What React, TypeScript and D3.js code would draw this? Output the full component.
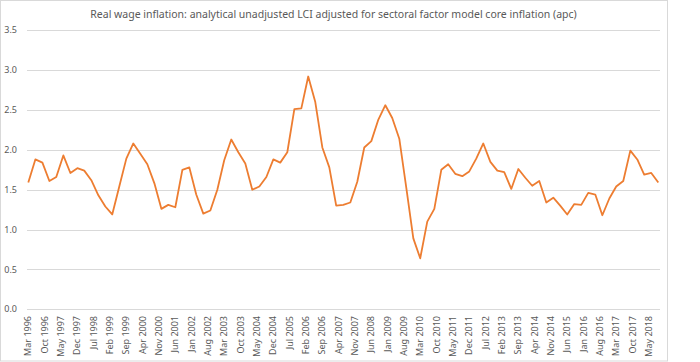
import React, { useRef, useEffect } from "react";
import * as d3 from "d3";

// real wage inflation, apc, quarterly from Mar 1996
const wageInflation = [
  1.59, 1.88, 1.84, 1.61, 1.66, 1.93, 1.71, 1.77, 1.74, 1.62,
  1.43, 1.29, 1.19, 1.54, 1.89, 2.08, 1.95, 1.82, 1.58, 1.26,
  1.31, 1.28, 1.75, 1.78, 1.44, 1.2, 1.24, 1.5, 1.87, 2.13,
  1.97, 1.83, 1.5, 1.54, 1.66, 1.88, 1.84, 1.97, 2.51, 2.52,
  2.92, 2.6, 2.03, 1.78, 1.3, 1.31, 1.34, 1.6, 2.03, 2.11,
  2.38, 2.56, 2.4, 2.14, 1.52, 0.89, 0.64, 1.1, 1.26, 1.75,
  1.82, 1.7, 1.67, 1.73, 1.89, 2.08, 1.85, 1.74, 1.72, 1.51,
  1.76, 1.65, 1.55, 1.61, 1.34, 1.4, 1.3, 1.19, 1.32, 1.31,
  1.46, 1.44, 1.18, 1.39, 1.54, 1.61, 1.99, 1.88, 1.69, 1.71,
  1.59,
];

const firstQuarter = "Mar 1996";

const xTickLabels = [
  "Mar 1996", "Oct 1996", "May 1997", "Dec 1997", "Jul 1998", "Feb 1999",
  "Sep 1999", "Apr 2000", "Nov 2000", "Jun 2001", "Jan 2002", "Aug 2002",
  "Mar 2003", "Oct 2003", "May 2004", "Dec 2004", "Jul 2005", "Feb 2006",
  "Sep 2006", "Apr 2007", "Nov 2007", "Jun 2008", "Jan 2009", "Aug 2009",
  "Mar 2010", "Oct 2010", "May 2011", "Dec 2011", "Jul 2012", "Feb 2013",
  "Sep 2013", "Apr 2014", "Nov 2014", "Jun 2015", "Jan 2016", "Aug 2016",
  "Mar 2017", "Oct 2017", "May 2018",
];

const yTicks = [0, 0.5, 1, 1.5, 2, 2.5, 3, 3.5];

const title =
  "Real wage inflation: analytical unadjusted LCI adjusted for sectoral factor model core inflation (apc)";

const WIDTH = 700;
const HEIGHT = 362;

const App = () => {
  const svgRef = useRef<SVGSVGElement>(null);

  useEffect(() => {
    const svg = d3.select(svgRef.current);
    svg.selectAll("*").remove();

    const parse = d3.timeParse("%b %Y");
    const start = parse(firstQuarter)!;
    // one point per quarter
    const dates = wageInflation.map((_, i) => d3.timeMonth.offset(start, i * 3));
    const data = dates.map((d, i) => ({ date: d, value: wageInflation[i] }));

    const plotLeft = 27;
    const plotRight = 660;

    const x = d3
      .scaleTime()
      .domain([dates[0], dates[dates.length - 1]])
      .range([28.3, 658.3]);

    const y = d3.scaleLinear().domain([0, 3.5]).range([309.3, 30.3]);

    const textColor = "#595959";
    const font = "'Noto Sans', 'Open Sans', sans-serif";

    // outer chart border
    svg
      .append("rect")
      .attr("x", 0.5)
      .attr("y", 0.5)
      .attr("width", 667)
      .attr("height", 360.5)
      .attr("fill", "#fff")
      .attr("stroke", "#d9d9d9");

    // title
    svg
      .append("text")
      .attr("x", 333.5)
      .attr("y", 18)
      .attr("text-anchor", "middle")
      .attr("font-family", font)
      .attr("font-size", 10.5)
      .attr("fill", textColor)
      .text(title);

    // gridlines
    svg
      .append("g")
      .selectAll("line")
      .data(yTicks)
      .join("line")
      .attr("x1", plotLeft)
      .attr("x2", plotRight)
      .attr("y1", (d) => Math.round(y(d)) + 0.5)
      .attr("y2", (d) => Math.round(y(d)) + 0.5)
      .attr("stroke", "#d9d9d9")
      .attr("stroke-width", 1);

    // y labels
    svg
      .append("g")
      .selectAll("text")
      .data(yTicks)
      .join("text")
      .attr("x", 17)
      .attr("y", (d) => y(d))
      .attr("dy", "0.35em")
      .attr("text-anchor", "end")
      .attr("font-family", font)
      .attr("font-size", 9)
      .attr("fill", textColor)
      .text((d) => d3.format(".1f")(d));

    // x labels, rotated
    svg
      .append("g")
      .selectAll("text")
      .data(xTickLabels)
      .join("text")
      .attr("transform", (d) => `translate(${x(parse(d)!) + 3},316) rotate(-90)`)
      .attr("text-anchor", "end")
      .attr("font-family", font)
      .attr("font-size", 9)
      .attr("fill", textColor)
      .text((d) => d);

    const wageLine = d3
      .line<{ date: Date; value: number }>()
      .x((d) => x(d.date))
      .y((d) => y(d.value));

    svg
      .append("path")
      .datum(data)
      .attr("d", wageLine)
      .attr("fill", "none")
      .attr("stroke", "#ED7D31")
      .attr("stroke-width", 1.8)
      .attr("stroke-linejoin", "round");
  }, []);

  return (
    <svg
      ref={svgRef}
      width={WIDTH}
      height={HEIGHT}
      style={{ position: "absolute", left: 0, top: 0, background: "#fff" }}
    ></svg>
  );
};

export default App;
